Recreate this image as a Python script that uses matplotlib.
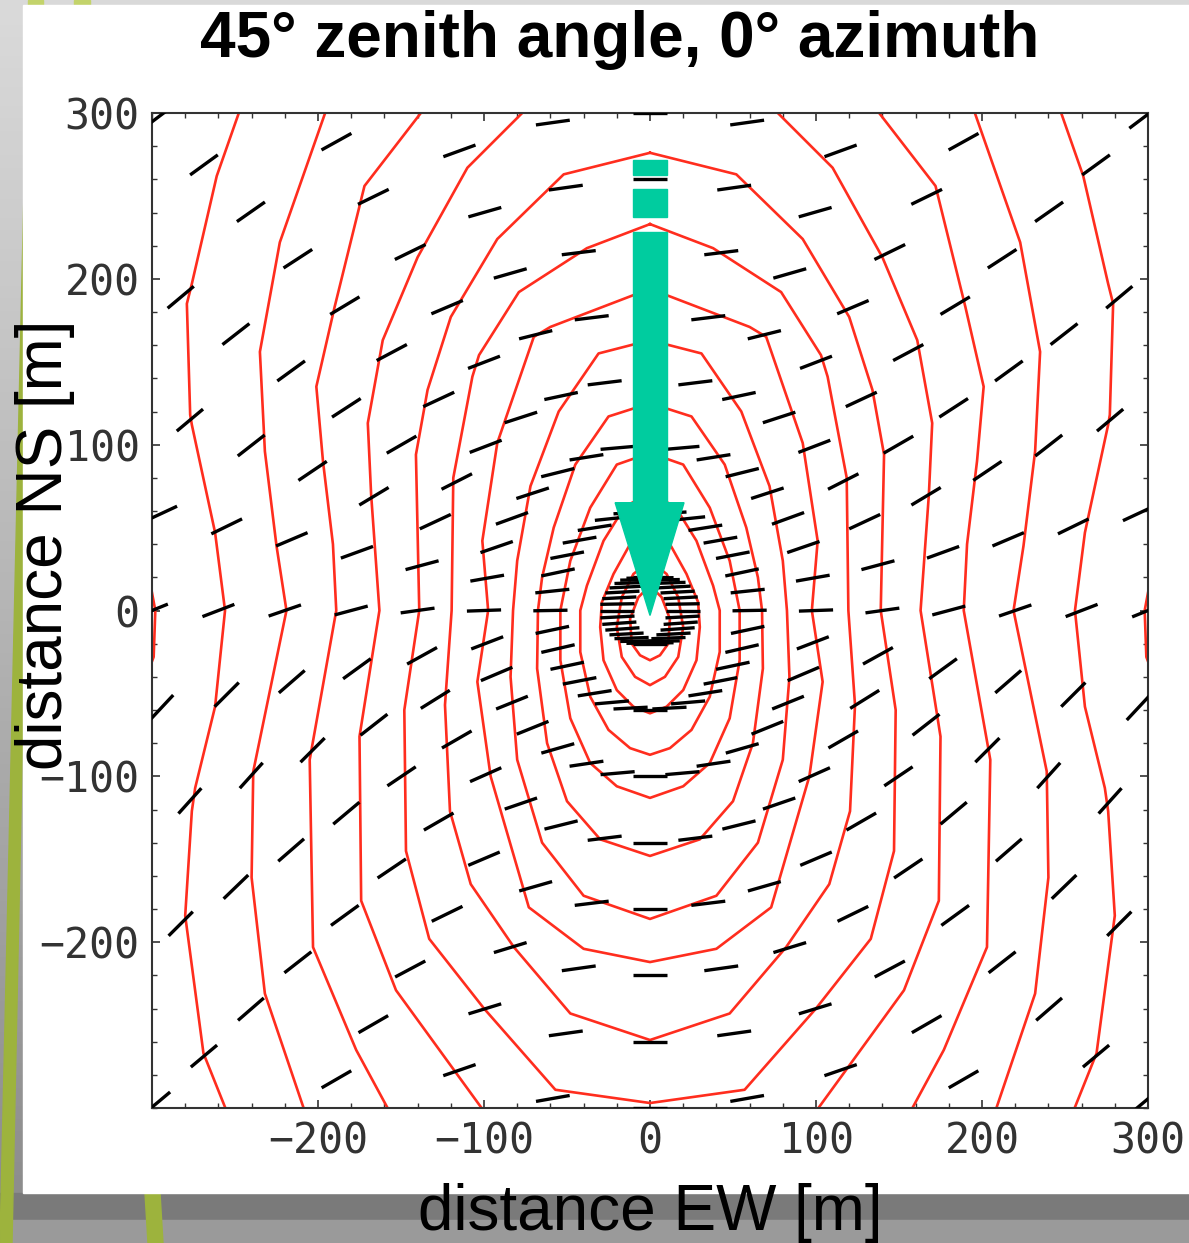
import numpy as np
import matplotlib
matplotlib.use("Agg")
import matplotlib.pyplot as plt
from matplotlib.collections import LineCollection
from matplotlib.patches import Rectangle, Polygon
from matplotlib.ticker import MultipleLocator

# --- datos ---
# antenas en estrella: anillos (m) y brazos (grados) de la mitad oeste
ring_r = [20, 60, 100, 140, 180, 220, 260, 300, 340, 380, 420]
arm_deg = [90, 101.25, 112.5, 123.75, 135, 146.25, 157.5, 168.75, 180,
           191.25, 202.5, 213.75, 225, 236.25, 247.5, 258.75, 270]
# inclinación de la polarización (grados) por anillo y brazo
pol_deg = [
    [0, 1, 1, 2, 3, 3, 3, 1, 0, 3, 4, 4, 3, 2, 1, 1, 0],
    [0, 3, 6, 9, 10, 11, 12, 6, 1, 12, 13, 12, 11, 9, 5, 3, 0],
    [0, 5, 9, 14, 18, 20, 19, 10, 2, 21, 23, 22, 22, 16, 8.5, 5, 0],
    [0, 7, 12, 18, 21, 27, 25, 15, 8, 29, 32, 30, 24, 19, 14, 7, 0],
    [0, 7, 14, 21, 25, 30, 31, 20, 15, 36, 38, 34, 30, 23, 16, 7, 0],
    [0, 7, 16, 23, 28, 33, 34, 23, 19, 41, 45, 40, 34, 26, 17, 8, 0],
    [0, 8, 16, 26, 31, 36, 38, 26, 21, 45, 48, 41, 36, 28, 17, 8, 0],
    [0, 8, 20, 26, 33, 38, 40, 25, 22, 47, 48, 44, 38, 30, 19, 10, 0],
    [0, 9, 21, 29, 35, 40, 41, 27, 23, 47, 48, 45, 41, 30, 20, 10, 0],
    [0, 9, 22, 30, 36, 41, 42, 28, 24, 47, 48, 45, 40, 31, 21, 11, 0],
    [0, 9, 22, 30, 37, 41, 42, 28, 24, 47, 48, 45, 40, 31, 21, 11, 0],
]

# curvas de nivel (mitad oeste), abiertas: del borde superior al inferior
open_contours = [
    [(-301, 16), (-298, 0), (-299, -28), (-302, -36)],
    [(-247, 302), (-261, 262), (-276, 197), (-279, 185), (-277, 118), (-276, 112),
     (-262, 47), (-256, 0), (-262, -58), (-274, -107), (-276, -121), (-280, -184),
     (-269, -267), (-255, -302)],
    [(-195, 302), (-223, 222), (-235, 156), (-232, 96), (-225, 39), (-219, 0),
     (-239, -97), (-240, -161), (-232, -231), (-208, -302)],
    [(-136.5, 302), (-172, 256), (-190, 183), (-201, 135), (-197, 90), (-191, 40),
     (-189, 0), (-205, -90), (-203, -203), (-177, -265), (-157, -302)],
    [(-75, 302), (-110, 267), (-140, 213), (-161, 163), (-170, 113), (-168, 70),
     (-163, 0), (-175, -76), (-174, -175), (-153, -229), (-100, -302)],
]
# cerradas: de la cima (x=0) a la base (x=0) por el lado oeste
closed_contours = [
    [(0, 276), (-52, 263), (-92, 224), (-120, 177), (-134, 133), (-141, 94),
     (-139, 0), (-148, -60), (-147, -145), (-133, -198), (-100, -240), (-57, -289), (0, -297)],
    [(0, 233), (-38, 218.5), (-79, 192), (-103, 154), (-107, 141), (-118.5, 80),
     (-119.5, 0), (-123.5, -57), (-120.5, -121), (-108, -165), (-82, -203), (-48, -243), (0, -259)],
    [(0, 194), (-60, 171), (-70, 165), (-92, 101), (-101, 42), (-97.5, 0), (-104, -43),
     (-96, -100), (-73, -179), (-40, -204), (0, -212)],
    [(0, 163), (-31, 155), (-55, 120), (-72, 75), (-80, 30), (-82.5, 0), (-84, -40),
     (-80, -90), (-65, -140), (-40, -172), (0, -186)],
    [(0, 125), (-25, 117), (-45, 88), (-58, 50), (-65, 20), (-67.5, 0), (-68, -35),
     (-62, -80), (-50, -115), (-30, -138), (0, -148)],
    [(0, 95), (-20, 88), (-36, 62), (-48, 30), (-54, 0), (-54, -30), (-48, -65),
     (-36, -92), (-20, -106), (0, -113)],
    [(0, 70), (-15, 63), (-28, 42), (-38, 15), (-42, 0), (-42, -25), (-36, -52),
     (-25, -72), (-12, -83), (0, -87)],
    [(0, 48), (-12, 40), (-22, 22), (-29, 5), (-30, -10), (-28, -30), (-20, -48),
     (-10, -58), (0, -62)],
    [(0, 30), (-10, 22), (-17, 8), (-20, -10), (-17, -28), (-9, -40), (0, -45)],
    [(0, 15), (-7, 8), (-12, -5), (-11, -20), (-6, -27), (0, -30)],
]

x_ticks = [-200, -100, 0, 100, 200, 300]
y_ticks = [-200, -100, 0, 100, 200, 300]

RED = "#ff2d1e"
TEAL = "#00cc9f"
W, H = 1189, 1243

fig = plt.figure(figsize=(W / 100, H / 100), dpi=100)

# --- fondo de la diapositiva (en píxeles) ---
bg = fig.add_axes([0, 0, 1, 1])
bg.set_xlim(0, W)
bg.set_ylim(H, 0)
bg.axis("off")
grad = np.linspace(0, 1, 200)[:, None]
bg.imshow(grad, cmap=matplotlib.colors.LinearSegmentedColormap.from_list(
    "g", ["#dadada", "#b4b4b4", "#8a8a8a"]), extent=(0, 30, H, 0), aspect="auto", zorder=0)
bg.add_patch(Rectangle((0, 0), W, 5, color="#d9d9d9", zorder=1))
bg.add_patch(Rectangle((28, 0), 15, 5, color="#c3d36b", zorder=2))
bg.add_patch(Rectangle((74, 0), 16, 5, color="#c3d36b", zorder=2))
bg.add_patch(Rectangle((0, 1193), W, 27, color="#7a7a7a", zorder=1))
bg.add_patch(Rectangle((0, 1220), W, 23, color="#9a9a9a", zorder=1))
bg.add_patch(Polygon([(24, 190), (34, 190), (12, H), (0, H)], color="#9db33d", zorder=2))
bg.add_patch(Polygon([(145, 1193), (160, 1193), (163, H), (148, H)], color="#9db33d", zorder=2))
bg.add_patch(Rectangle((23, 5), W - 23, 1188, color="white", zorder=3))

# --- ejes principales ---
ax = fig.add_axes([152 / W, (H - 1108) / H, 996 / W, 995 / H])
ax.set_xlim(-300, 300)
ax.set_ylim(-300, 300)
ax.set_facecolor("none")

for line in open_contours:
    pts = np.array(line, dtype=float)
    ax.plot(pts[:, 0], pts[:, 1], color=RED, lw=1.9, zorder=2)
    ax.plot(-pts[:, 0], pts[:, 1], color=RED, lw=1.9, zorder=2)
for line in closed_contours:
    pts = np.array(line, dtype=float)
    mirror = pts[::-1].copy()
    mirror[:, 0] *= -1
    loop = np.vstack([pts, mirror[1:]])
    ax.plot(loop[:, 0], loop[:, 1], color=RED, lw=1.9, zorder=2)

# trazos de polarización
half = 10.3
segs = []
for i, r in enumerate(ring_r):
    for j, a in enumerate(arm_deg):
        x = r * np.cos(np.radians(a))
        y = r * np.sin(np.radians(a))
        t = np.radians(pol_deg[i][j])
        dx, dy = half * np.cos(t), half * np.sin(t)
        segs.append([(x - dx, y - dy), (x + dx, y + dy)])
        if a not in (90, 270):
            segs.append([(-x - dx, y - dy), (-x + dx, y + dy)])
ax.add_collection(LineCollection(segs, colors="black", linewidths=2.4, zorder=3))

# flecha turquesa (dirección de llegada)
ax.add_patch(Rectangle((-10.5, 262.4), 21, 9, color=TEAL, zorder=6))
ax.add_patch(Rectangle((-10.5, 237), 21, 17, color=TEAL, zorder=6))
ax.add_patch(Rectangle((-10.5, 64), 21, 164, color=TEAL, zorder=6))
ax.add_patch(Polygon([(-21, 65), (20.5, 65), (0, -3)], color=TEAL, zorder=6))

ax.set_xticks(x_ticks)
ax.set_yticks(y_ticks)
ax.xaxis.set_minor_locator(MultipleLocator(20))
ax.yaxis.set_minor_locator(MultipleLocator(20))
ax.tick_params(which="both", direction="in", top=True, right=True, color="#333333")
ax.tick_params(which="major", length=6, width=1.2)
ax.tick_params(which="minor", length=3.5, width=1.0)
ax.tick_params(axis="y", labelsize=30, pad=9, labelcolor="#333333")
ax.tick_params(axis="x", labelsize=30, pad=9, labelcolor="#333333")
for lab in ax.get_xticklabels() + ax.get_yticklabels():
    lab.set_fontfamily("DejaVu Sans Mono")
for s in ax.spines.values():
    s.set_color("#333333")
    s.set_linewidth(1.5)

fig.text(620 / W, 1 - 40 / H, "45° zenith angle, 0° azimuth", ha="center", va="center",
         fontsize=46, fontweight="bold", family="Liberation Sans")
fig.text(650 / W, 1 - 1213 / H, "distance EW [m]", ha="center", va="center",
         fontsize=46, family="Liberation Sans")
fig.text(45 / W, 1 - 545 / H, "distance NS [m]", ha="center", va="center", rotation=90,
         fontsize=46, family="Liberation Sans")

fig.savefig("out.png", dpi=100)
